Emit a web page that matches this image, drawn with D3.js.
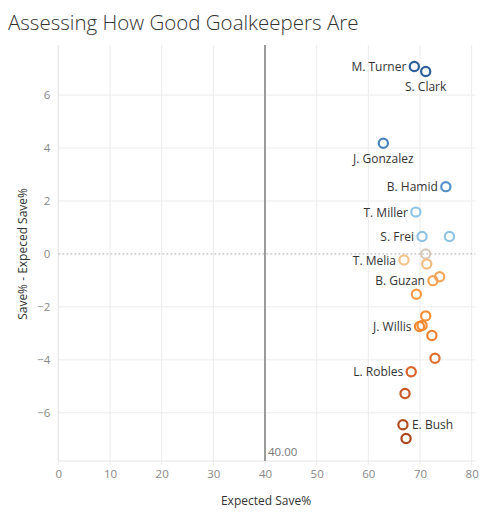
<!DOCTYPE html>
<html>
<head>
<meta charset="utf-8">
<script src="https://cdn.jsdelivr.net/npm/d3@7"></script>
<style>
  html, body { margin: 0; padding: 0; background: #fff; }
  svg { display: block; font-family: "Open Sans", "Lato", sans-serif; }
</style>
</head>
<body>
<svg id="chart" width="500" height="523"></svg>
<script>
// ---------- data ----------
const keepers = ["M. Turner", "S. Clark", "J. Gonzalez", "B. Hamid", "T. Miller", "S. Frei", "", "", "T. Melia", "", "", "B. Guzan", "", "", "J. Willis", "", "", "", "L. Robles", "", "E. Bush", ""];
const expectedSave = [68.9, 71.1, 62.9, 75.0, 69.2, 70.4, 75.7, 71.1, 66.9, 71.3, 73.8, 72.5, 69.3, 71.1, 69.9, 70.4, 72.3, 72.9, 68.3, 67.1, 66.7, 67.3];
const saveDiff = [7.08, 6.89, 4.18, 2.54, 1.58, 0.66, 0.66, 0.0, -0.23, -0.38, -0.86, -1.01, -1.52, -2.34, -2.74, -2.70, -3.08, -3.94, -4.45, -5.27, -6.45, -6.97];
const xTicks = [0, 10, 20, 30, 40, 50, 60, 70, 80];
const yTicks = [-6, -4, -2, 0, 2, 4, 6];
const referenceValue = 40;
const title = "Assessing How Good Goalkeepers Are";
const xTitle = "Expected Save%";
const yTitle = "Save% - Expeced Save%";

// ---------- layout ----------
const svg = d3.select("#chart");
const pLeft = 58.3, pRight = 475.3, pTop = 45, pBottom = 461;
const x = d3.scaleLinear().domain([0, 80.7]).range([pLeft, pRight]);
const y = d3.scaleLinear().domain([-7.82, 7.89]).range([pBottom, pTop]);
const color = d3.scaleLinear()
  .domain([-7, -4.5, -2.5, -0.9, -0.2, 0, 0.6, 1.6, 2.5, 4.2, 7])
  .range(["#a8451f", "#d9622b", "#f58f35", "#f7a555", "#f2c48f", "#d6c8ba", "#8ec3e3", "#8ec3e3", "#5591c8", "#4a84bd", "#2d5f99"])
  .clamp(true);

// title
svg.append("text").attr("x", 8).attr("y", 30)
  .attr("font-size", 20.5).attr("fill", "#333").attr("font-weight", 300)
  .text(title);

// gridlines
const grid = svg.append("g");
grid.selectAll("line.v").data(xTicks).join("line")
  .attr("x1", d => x(d)).attr("x2", d => x(d))
  .attr("y1", pTop).attr("y2", pBottom + 4)
  .attr("stroke", "#ececec").attr("stroke-width", 1);
grid.selectAll("line.h").data(yTicks.filter(d => d !== 0)).join("line")
  .attr("x1", pLeft).attr("x2", pRight)
  .attr("y1", d => y(d)).attr("y2", d => y(d))
  .attr("stroke", "#ececec").attr("stroke-width", 1);

// axis lines
svg.append("line").attr("x1", pLeft).attr("x2", pLeft).attr("y1", pTop).attr("y2", pBottom)
  .attr("stroke", "#e6e6e6");
svg.append("line").attr("x1", pLeft).attr("x2", pRight).attr("y1", pBottom).attr("y2", pBottom)
  .attr("stroke", "#e6e6e6");

// zero line
svg.append("line").attr("x1", pLeft).attr("x2", pRight).attr("y1", y(0)).attr("y2", y(0))
  .attr("stroke", "#b0b0b0").attr("stroke-dasharray", "2,2").attr("stroke-width", 1);

// x axis
const xAxis = svg.append("g").attr("transform", `translate(0,${pBottom})`)
  .call(d3.axisBottom(x).tickValues(xTicks).tickSize(0).tickPadding(9));
xAxis.select(".domain").remove();
xAxis.selectAll("text").attr("font-size", 11.5).attr("fill", "#888").attr("font-family", "Open Sans, sans-serif");

// y axis
const yAxis = svg.append("g").attr("transform", `translate(${pLeft},0)`)
  .call(d3.axisLeft(y).tickValues(yTicks).tickSize(0).tickPadding(8));
yAxis.select(".domain").remove();
yAxis.selectAll("text").attr("font-size", 11.5).attr("fill", "#888").attr("font-family", "Open Sans, sans-serif");

// axis titles
svg.append("text").attr("x", x(40.2)).attr("y", 505).attr("text-anchor", "middle")
  .attr("font-size", 12).attr("fill", "#333").text(xTitle);
svg.append("text").attr("transform", `translate(26.5,${y(0)}) rotate(-90)`)
  .attr("text-anchor", "middle").attr("font-size", 12).attr("fill", "#333").text(yTitle);

// reference line
svg.append("line").attr("x1", x(referenceValue)).attr("x2", x(referenceValue))
  .attr("y1", pTop).attr("y2", pBottom)
  .attr("stroke", "#9a9a9a").attr("stroke-width", 2);
svg.append("text").attr("x", x(referenceValue) + 3).attr("y", pBottom - 5)
  .attr("font-size", 11.5).attr("fill", "#777").text(d3.format(".2f")(referenceValue));

// points
const pts = keepers.map((k, i) => ({ name: k, ex: expectedSave[i], d: saveDiff[i] }));
svg.append("g").selectAll("circle").data(pts).join("circle")
  .attr("cx", d => x(d.ex)).attr("cy", d => y(d.d)).attr("r", 4.6)
  .attr("fill", "none").attr("stroke", d => color(d.d)).attr("stroke-width", 2.2);

// labels (placement is a style choice)
const placement = { "S. Clark": "below", "J. Gonzalez": "below", "E. Bush": "right" };
svg.append("g").selectAll("text").data(pts.filter(p => p.name)).join("text")
  .attr("font-size", 12).attr("fill", "#333")
  .attr("x", d => {
    const p = placement[d.name];
    if (p === "below") return x(d.ex);
    if (p === "right") return x(d.ex) + 9;
    return x(d.ex) - 8;
  })
  .attr("y", d => placement[d.name] === "below" ? y(d.d) + 20 : y(d.d) + 4.5)
  .attr("text-anchor", d => {
    const p = placement[d.name];
    return p === "below" ? "middle" : p === "right" ? "start" : "end";
  })
  .text(d => d.name);
</script>
</body>
</html>
